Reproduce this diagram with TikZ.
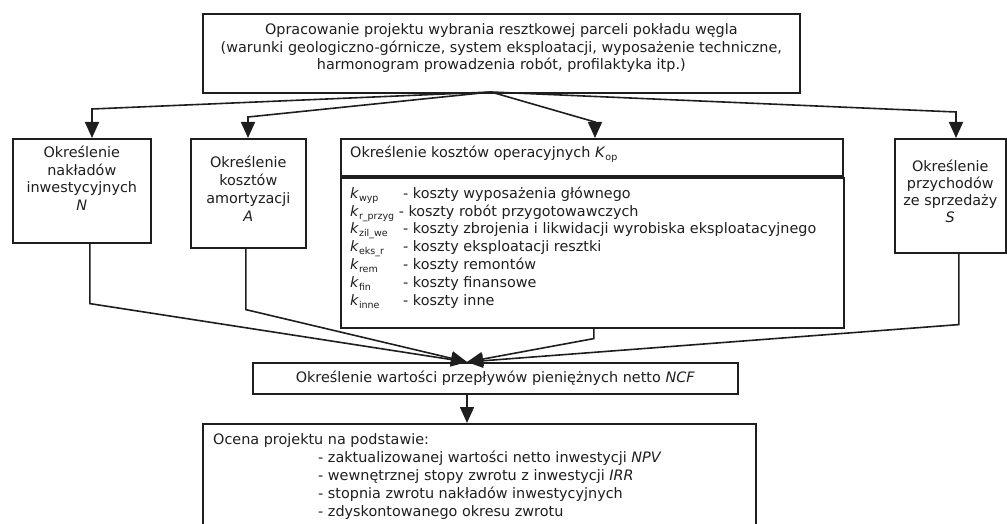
\documentclass[tikz,border=0pt]{standalone}
\usepackage{fontspec}
\setmainfont{DejaVu Sans}
\usetikzlibrary{arrows.meta,calc}

\definecolor{ink}{HTML}{1E1E1E}
\tikzset{
	box/.style={draw=ink, line width=1.6pt, inner sep=0pt, anchor=north west},
	txt/.style={align=center, inner sep=0pt, anchor=north, text=ink, font=\fontsize{14.4}{17.5}\selectfont},
	lst/.style={align=left, inner sep=0pt, anchor=north west, text=ink, font=\fontsize{14.4}{17.8}\selectfont},
	arr/.style={draw=ink, line width=1.6pt, -{Triangle[width=14pt,length=16pt]}},
}
\newcommand{\sub}[2]{\textit{#1}\raisebox{-3pt}{\fontsize{9.5}{9.5}\selectfont #2}}
\newcommand{\kline}[2]{\makebox[53pt][l]{\sub{k}{#1}}- #2}

\begin{document}
\begin{tikzpicture}[x=1pt, y=-1pt]
			      \clip (0,0) rectangle (1007,524);
			      % boxes
			      \node[box, minimum width=597pt, minimum height=79pt] (prj) at (202,13) {};
			      \node[txt] (prjT) at ([yshift=-10.5pt]prj.north) {Opracowanie projektu wybrania resztkowej parceli pokładu węgla\\
			      	(warunki geologiczno-górnicze, system eksploatacji, wyposażenie techniczne,\\
			      	harmonogram prowadzenia robót, profilaktyka itp.)};

			      \node[box, minimum width=138pt, minimum height=104pt] (nak) at (12,138) {};
			      \node[txt] (nakT) at ([yshift=-8pt]nak.north) {Określenie\\nakładów\\inwestycyjnych\\\textit{N}};

			      \node[box, minimum width=115pt, minimum height=109pt] (amo) at (190,138) {};
			      \node[txt, font=\fontsize{14.4}{18}\selectfont] (amoT) at ([yshift=-18pt]amo.north) {Określenie\\kosztów\\amortyzacji\\\textit{A}};

			      \node[box, minimum width=502pt, minimum height=37pt] (kop) at (340,138) {};
			      \node[lst, anchor=west] (kopT) at ([xshift=10pt, yshift=3pt]kop.west) {Określenie kosztów operacyjnych \sub{K}{op}};

			      \node[box, minimum width=503pt, minimum height=150pt] (kopL) at (340,177) {};
			      \node[lst] (kopLT) at ([xshift=10pt, yshift=-9.5pt]kopL.north west) {\kline{wyp}{koszty wyposażenia głównego}\\
			      	\sub{k}{r\_przyg} - koszty robót przygotowawczych\\
			      	\kline{zil\_we}{koszty zbrojenia i likwidacji wyrobiska eksploatacyjnego}\\
			      	\kline{eks\_r}{koszty eksploatacji resztki}\\
			      	\kline{rem}{koszty remontów}\\
			      	\kline{fin}{koszty finansowe}\\
			      	\kline{inne}{koszty inne}};

			      \node[box, minimum width=111pt, minimum height=114pt] (prz) at (894,138) {};
			      \node[txt, font=\fontsize{14.4}{17}\selectfont] (przT) at ([yshift=-22pt]prz.north) {Określenie\\przychodów\\ze sprzedaży\\\textit{S}};

			      \node[box, minimum width=485pt, minimum height=31pt] (ncf) at (252,362) {};
			      \node[txt, anchor=center] (ncfT) at (ncf.center) {Określenie wartości przepływów pieniężnych netto \textit{NCF}};

			      \node[box, minimum width=553pt, minimum height=130pt] (oce) at (202,423) {};
			      \node[lst, font=\fontsize{14.4}{18}\selectfont] (oceT) at ([xshift=11pt, yshift=-10.5pt]oce.north west) {Ocena projektu na podstawie:\\
			      	\hspace{105pt}- zaktualizowanej wartości netto inwestycji \textit{NPV}\\
			      	\hspace{105pt}- wewnętrznej stopy zwrotu z inwestycji \textit{IRR}\\
			      	\hspace{105pt}- stopnia zwrotu nakładów inwestycyjnych\\
			      	\hspace{105pt}- zdyskontowanego okresu zwrotu};

			      % arrows from the project
			      \coordinate (fork) at (491,92);
			      \draw[arr] (fork) -- (92,109) -- (92,109 |- nak.north);
			      \draw[arr] (fork) -- (248,117) -- (248,117 |- amo.north);
			      \draw[arr] (fork) -- (595,122) -- (595,122 |- kop.north);
			      \draw[arr] (fork) -- (956,112) -- (956,112 |- prz.north);

			      % arrows to NCF
			      \coordinate (join) at (467,362);
			      \draw[arr] ([xshift=8pt]nak.south) -- ++(0,60) -- (join);
			      \draw[arr] ([xshift=-2.5pt]amo.south) -- ++(0,61) -- (join);
			      \draw[arr] ([xshift=1.5pt]kopL.south) -- ++(0,10) -- (join);
			      \draw[arr] ([xshift=8.5pt]prz.south) -- ++(0,71) -- (join);
			      \draw[arr] (join |- ncf.south) -- (join |- oce.north);
\end{tikzpicture}
\end{document}
